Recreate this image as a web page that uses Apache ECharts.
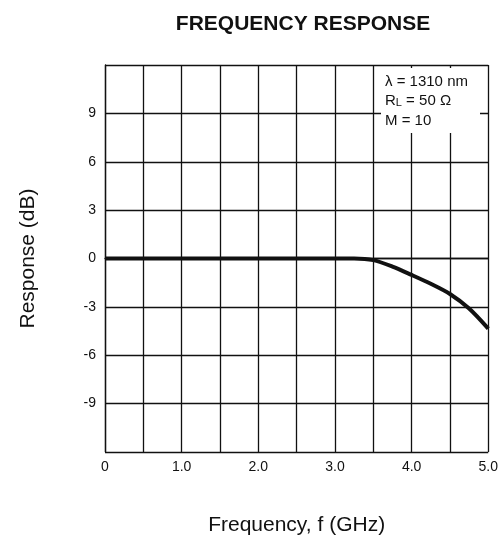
<!DOCTYPE html>
<html>
<head>
<meta charset="utf-8">
<script src="https://cdn.jsdelivr.net/npm/echarts@6/dist/echarts.min.js"></script>
<style>html,body{margin:0;padding:0;background:#fff}#c{width:501px;height:541px}</style>
</head>
<body>
<div id="c"></div>
<script>
var titleText = 'FREQUENCY RESPONSE';
var xName = 'Frequency, f (GHz)';
var yName = 'Response (dB)';
var freq = [0, 0.5, 1.0, 1.5, 2.0, 2.5, 3.0, 3.25, 3.5, 3.75, 4.0, 4.25, 4.5, 4.75, 5.0];
var resp = [0, 0, 0, 0, 0, 0, 0, 0, -0.1, -0.5, -1.02, -1.57, -2.2, -3.1, -4.35];
var legendLines = ['λ = 1310 nm', '{n|R}{s|L}{n| = 50 Ω}', 'M = 10'];

var chart = echarts.init(document.getElementById('c'));
var font = 'Liberation Sans, Arial, sans-serif';
chart.setOption({
  animation: false,
  backgroundColor: '#fff',
  title: {text: titleText, left: 298, top: 9, textAlign: 'center',
    textStyle: {fontFamily: font, fontSize: 21, fontWeight: 'bold', color: '#111'}},
  grid: {left: 105, right: 12, top: 65, bottom: 89},
  xAxis: {
    type: 'value', min: 0, max: 5, interval: 0.5,
    name: xName, nameLocation: 'middle', nameGap: 63,
    nameTextStyle: {fontFamily: font, fontSize: 21, color: '#111'},
    axisLine: {show: true, lineStyle: {color: '#111', width: 1.3}},
    axisTick: {show: false},
    axisLabel: {fontFamily: font, fontSize: 14, color: '#111', margin: 8,
      formatter: function (v) { if (v === 0) return '0'; return Math.abs(v - Math.round(v)) < 1e-9 ? v.toFixed(1) : ''; }},
    splitLine: {show: true, lineStyle: {color: '#111', width: 1.3}}
  },
  yAxis: {
    type: 'value', min: -12, max: 12, interval: 3,
    name: yName, nameLocation: 'middle', nameGap: 66, nameRotate: 90,
    nameTextStyle: {fontFamily: font, fontSize: 21, color: '#111'},
    axisLine: {show: true, lineStyle: {color: '#111', width: 1.3}},
    axisTick: {show: false},
    axisLabel: {fontFamily: font, fontSize: 14, color: '#111', margin: 9,
      formatter: function (v) { return Math.abs(v) === 12 ? '' : String(v); }},
    splitLine: {show: true, lineStyle: {color: '#111', width: 1.3}}
  },
  series: [{
    type: 'line', data: freq.map(function (f, i) { return [f, resp[i]]; }),
    smooth: 0.3, showSymbol: false, symbol: 'none',
    lineStyle: {color: '#111', width: 4}, z: 3
  }],
  graphic: [
    {type: 'rect', shape: {x: 381, y: 68, width: 99, height: 65}, style: {fill: '#fff'}, z: 10},
    {type: 'text', left: 385, top: 72, z: 11,
      style: {text: legendLines.join('\n'), fontFamily: font, fontSize: 15, lineHeight: 19.5, fill: '#111',
        rich: {n: {fontFamily: font, fontSize: 15, lineHeight: 19.5, color: '#111'},
               s: {fontFamily: font, fontSize: 11, lineHeight: 11, color: '#111', verticalAlign: 'bottom', padding: [0, 0, 3, 0]}}}}
  ]
});
</script>
</body>
</html>
